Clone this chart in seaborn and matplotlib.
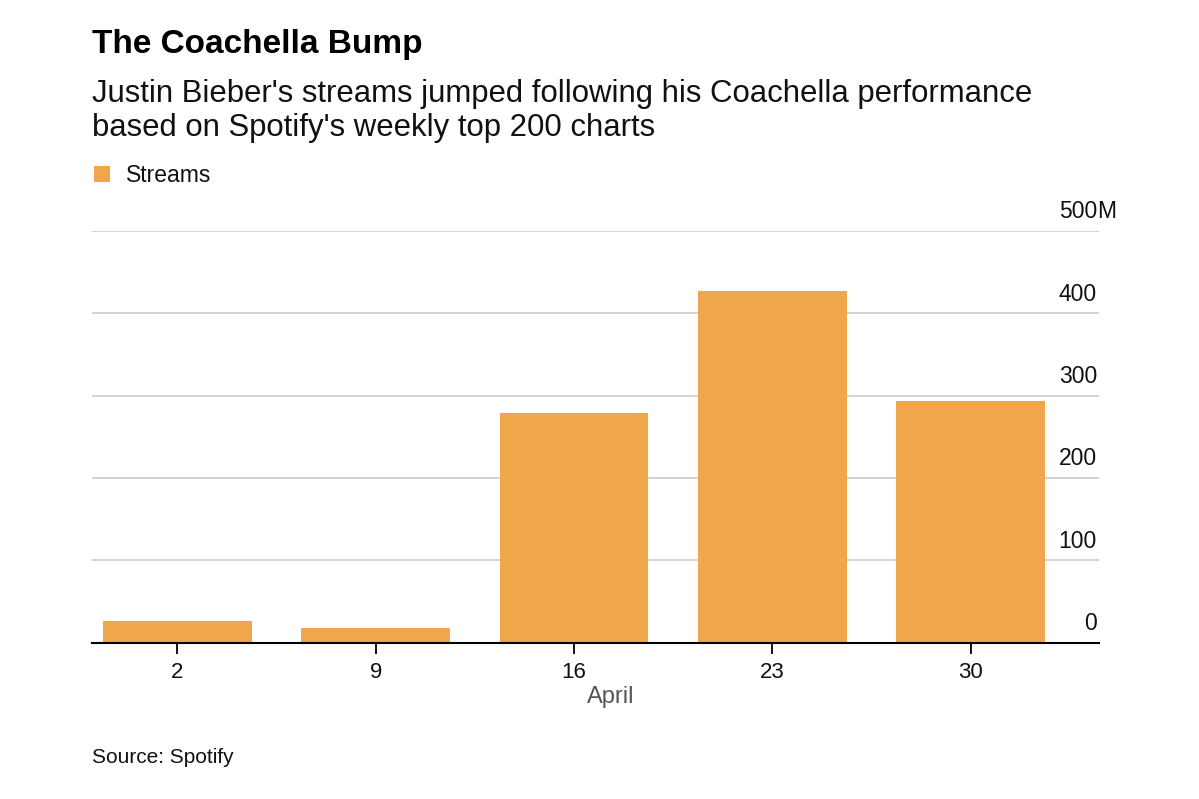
import matplotlib
matplotlib.use('Agg')
import matplotlib.pyplot as plt
import seaborn as sns
import pandas as pd

# dados
weeks = ['2', '9', '16', '23', '30']
streams = [26.7, 18.2, 279, 426.5, 293]   # milhões
y_ticks = [0, 100, 200, 300, 400, 500]
y_labels = ['0', '100', '200', '300', '400', '500']
top_suffix = 'M'

bar_color = '#F0A64A'

df = pd.DataFrame({'week': weeks, 'streams': streams})

sns.set_style('white')
plt.rcParams['font.family'] = ['Liberation Sans', 'DejaVu Sans']
plt.rcParams['text.color'] = '#111111'

W, H = 1199, 799
fig = plt.figure(figsize=(W / 100, H / 100), dpi=100)
ax = fig.add_axes([92 / W, (H - 642.7) / H, (1099 - 92) / W, (642.7 - 230.7) / H])

sns.barplot(data=df, x='week', y='streams', color=bar_color, width=0.75,
            saturation=1, linewidth=0, label='Streams', ax=ax)
if ax.get_legend() is not None:
    ax.get_legend().remove()

ax.set_ylim(0, 500)
ax.set_xlim(-0.43, 4.646)

# grade horizontal
ax.set_yticks(y_ticks)
ax.yaxis.grid(True, color='#cccccc', lw=1.2)
ax.set_axisbelow(True)
ax.tick_params(axis='y', left=False, labelleft=False)
for v, lab in zip(y_ticks, y_labels):
    ax.text(0.998, v + 9, lab, transform=ax.get_yaxis_transform(),
            ha='right', va='bottom', fontsize=16.5, color='#111111')
ax.text(0.998, y_ticks[-1] + 9, top_suffix, transform=ax.get_yaxis_transform(),
        ha='left', va='bottom', fontsize=16.5, color='#111111')

for s in ['top', 'left', 'right']:
    ax.spines[s].set_visible(False)
ax.spines['bottom'].set_color('black')
ax.spines['bottom'].set_linewidth(1.5)
ax.spines['bottom'].set_zorder(5)

ax.tick_params(axis='x', bottom=True, length=8, width=1.3, color='black',
               labelsize=16, pad=6, labelcolor='#111111')
ax.set_xlabel('')
ax.set_ylabel('')

fig.text(611 / W, 1 - 703 / H, 'April', ha='center', va='baseline',
         fontsize=17, color='#555555')

# textos
fig.text(92 / W, 1 - 53 / H, 'The Coachella Bump', fontsize=24,
         fontweight='bold', va='baseline', ha='left', color='black')
fig.text(92 / W, 1 - 102 / H,
         "Justin Bieber's streams jumped following his Coachella performance",
         fontsize=22.4, va='baseline', ha='left')
fig.text(92 / W, 1 - 136 / H, "based on Spotify's weekly top 200 charts",
         fontsize=22.4, va='baseline', ha='left')
fig.text(92 / W, 1 - 763 / H, 'Source: Spotify', fontsize=15,
         va='baseline', ha='left')

# legenda
fig.legend(handles=[ax.containers[0]], labels=['Streams'],
           loc='upper left', bbox_to_anchor=(78 / W, 1 - 148 / H),
           frameon=False, fontsize=16.5, handlelength=0.68, handleheight=0.68,
           handletextpad=0.7, borderpad=0.2)

fig.savefig('out.png', dpi=100)
